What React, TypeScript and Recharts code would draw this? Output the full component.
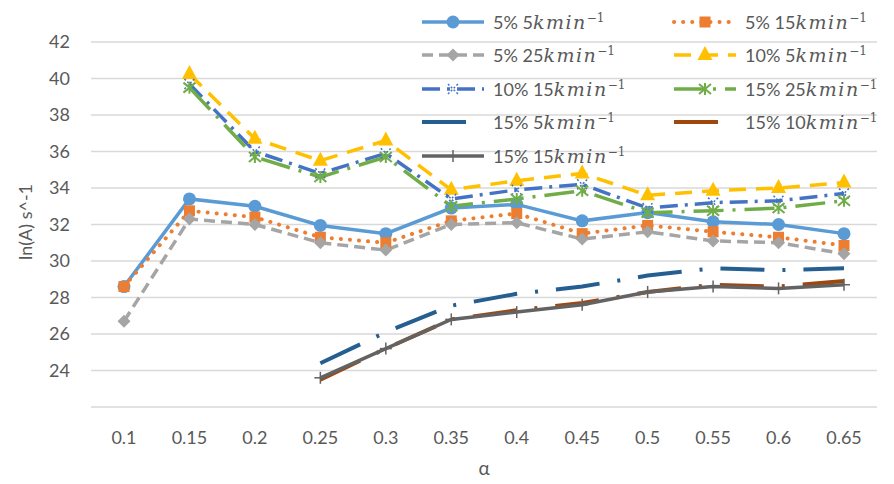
import React from "react";
import {
  LineChart,
  Line,
  XAxis,
  YAxis,
  CartesianGrid,
  Legend,
  Label,
} from "recharts";

const alpha = ["0.1", "0.15", "0.2", "0.25", "0.3", "0.35", "0.4", "0.45", "0.5", "0.55", "0.6", "0.65"];

const s5p5 = [28.6, 33.4, 33.0, 31.95, 31.5, 32.9, 33.1, 32.2, 32.65, 32.15, 32.0, 31.5];
const s5p15 = [28.6, 32.75, 32.4, 31.3, 31.0, 32.2, 32.6, 31.5, 31.95, 31.6, 31.3, 30.85];
const s5p25 = [26.7, 32.3, 32.0, 31.0, 30.6, 32.0, 32.1, 31.2, 31.6, 31.1, 31.0, 30.4];
const s10p5 = [null, 40.25, 36.7, 35.5, 36.6, 33.9, 34.4, 34.8, 33.6, 33.85, 34.0, 34.3];
const s10p15 = [null, 39.7, 36.0, 34.8, 35.9, 33.4, 33.9, 34.2, 32.9, 33.2, 33.3, 33.7];
const s15p25 = [null, 39.5, 35.7, 34.6, 35.7, 33.0, 33.4, 33.85, 32.65, 32.75, 32.9, 33.3];
const s15p5 = [null, null, null, 24.4, 26.1, 27.55, 28.2, 28.6, 29.2, 29.6, 29.5, 29.6];
const s15p10 = [null, null, null, 23.5, 25.2, 26.8, 27.3, 27.7, 28.3, 28.7, 28.6, 28.9];
const s15p15 = [null, null, null, 23.6, 25.2, 26.8, 27.2, 27.6, 28.3, 28.6, 28.5, 28.7];

const yTicks = [22, 24, 26, 28, 30, 32, 34, 36, 38, 40, 42];

const data = alpha.map((a, i) => ({
  alpha: a,
  s5p5: s5p5[i],
  s5p15: s5p15[i],
  s5p25: s5p25[i],
  s10p5: s10p5[i],
  s10p15: s10p15[i],
  s15p25: s15p25[i],
  s15p5: s15p5[i],
  s15p10: s15p10[i],
  s15p15: s15p15[i],
}));

type Series = {
  key: string;
  pct: string;
  rate: string;
  color: string;
  width: number;
  dash?: string;
  cap?: "round" | "butt";
  marker?: string;
};

const SERIES: Series[] = [
  { key: "s5p5", pct: "5%", rate: "5", color: "#5B9BD5", width: 3.5, marker: "circle" },
  { key: "s5p15", pct: "5%", rate: "15", color: "#ED7D31", width: 4, dash: "0.1 9", cap: "round", marker: "square" },
  { key: "s5p25", pct: "5%", rate: "25", color: "#A5A5A5", width: 3.5, dash: "11 6", marker: "diamond" },
  { key: "s10p5", pct: "10%", rate: "5", color: "#FFC000", width: 3.5, dash: "17 10", marker: "triangle" },
  { key: "s10p15", pct: "10%", rate: "15", color: "#4472C4", width: 3.5, dash: "18 7 3 7", marker: "xdots" },
  { key: "s15p25", pct: "15%", rate: "25", color: "#70AD47", width: 3.5, dash: "30 9 3 9", marker: "star" },
  { key: "s15p5", pct: "15%", rate: "5", color: "#255E91", width: 4, dash: "44 18 3 18" },
  { key: "s15p10", pct: "15%", rate: "10", color: "#9E480E", width: 4, dash: "44 18 3 18" },
  { key: "s15p15", pct: "15%", rate: "15", color: "#636363", width: 3.5, marker: "plus" },
];

const Marker = ({ kind, cx, cy, color }: { kind?: string; cx: number; cy: number; color: string }) => {
  switch (kind) {
    case "circle":
      return <circle cx={cx} cy={cy} r={6.5} fill={color} />;
    case "square":
      return <rect x={cx - 5.5} y={cy - 5.5} width={11} height={11} fill={color} />;
    case "diamond":
      return (
        <polygon
          points={`${cx},${cy - 6.5} ${cx + 6.5},${cy} ${cx},${cy + 6.5} ${cx - 6.5},${cy}`}
          fill={color}
        />
      );
    case "triangle":
      return (
        <polygon
          points={`${cx},${cy - 9} ${cx + 7.5},${cy + 5} ${cx - 7.5},${cy + 5}`}
          fill={color}
        />
      );
    case "xdots":
      return (
        <g stroke={color} strokeWidth={1.5} strokeDasharray="2 2">
          <line x1={cx - 5} y1={cy - 5} x2={cx + 5} y2={cy + 5} />
          <line x1={cx - 5} y1={cy + 5} x2={cx + 5} y2={cy - 5} />
        </g>
      );
    case "star":
      return (
        <g stroke={color} strokeWidth={2}>
          <line x1={cx - 6} y1={cy - 5} x2={cx + 6} y2={cy + 5} />
          <line x1={cx - 6} y1={cy + 5} x2={cx + 6} y2={cy - 5} />
          <line x1={cx} y1={cy - 6} x2={cx} y2={cy + 6} />
        </g>
      );
    case "plus":
      return (
        <g stroke={color} strokeWidth={1.5}>
          <line x1={cx} y1={cy - 6} x2={cx} y2={cy + 6} />
          <line x1={cx - 6} y1={cy} x2={cx + 6} y2={cy} />
        </g>
      );
    default:
      return null;
  }
};

const renderDot = (s: Series) => (p: any) => {
  const k = `${s.key}-${p.index}`;
  if (!s.marker || p.cx == null || p.cy == null || p.value == null) return <g key={k} />;
  return (
    <g key={k}>
      <Marker kind={s.marker} cx={p.cx} cy={p.cy} color={s.color} />
    </g>
  );
};

const LegendIcon = ({ s }: { s: Series }) => (
  <svg width={66} height={20} style={{ flex: "none" }}>
    <line
      x1={2}
      y1={10}
      x2={64}
      y2={10}
      stroke={s.color}
      strokeWidth={s.width}
      strokeDasharray={s.dash}
      strokeLinecap={s.cap || "butt"}
    />
    <Marker kind={s.marker} cx={33} cy={10} color={s.color} />
  </svg>
);

const LegendContent = () => (
  <div
    style={{
      display: "grid",
      gridTemplateColumns: "252px auto",
      gridAutoRows: "33.5px",
      alignItems: "center",
    }}
  >
    {SERIES.map((s) => (
      <div key={s.key} style={{ display: "flex", alignItems: "center", whiteSpace: "nowrap" }}>
        <LegendIcon s={s} />
        <span style={{ marginLeft: 7, fontFamily: "Lato", fontSize: 18, color: "#595959" }}>
          {s.pct} {s.rate}
          <span
            style={{
              fontFamily: "DejaVu Serif",
              fontStyle: "italic",
              fontSize: 19,
              letterSpacing: 1.5,
            }}
          >
            kmin
          </span>
          <sup style={{ fontFamily: "DejaVu Serif", fontSize: 12 }}>−1</sup>
        </span>
      </div>
    ))}
  </div>
);

const tickStyle = { fontFamily: "Lato", fontSize: 18, fill: "#595959" };

export default function App() {
  return (
    <div style={{ position: "absolute", left: 0, top: 0, background: "#fff" }}>
      <LineChart
        width={894}
        height={484}
        data={data}
        margin={{ top: 42, right: 17, bottom: 0, left: 0 }}
      >
        <CartesianGrid vertical={false} stroke="#D9D9D9" strokeWidth={1.3} />
        <XAxis
          dataKey="alpha"
          height={77}
          axisLine={false}
          tickLine={false}
          tickSize={0}
          tickMargin={24}
          tick={tickStyle}
          interval={0}
          padding={{ left: 33, right: 33 }}
        >
          <Label
            content={() => (
              <text x={484} y={475} textAnchor="middle" fontFamily="Lato" fontSize={19} fill="#595959">
                α
              </text>
            )}
          />
        </XAxis>
        <YAxis
          width={91}
          domain={[22, 42]}
          ticks={yTicks}
          axisLine={false}
          tickLine={false}
          tickSize={0}
          tickMargin={21}
          tick={tickStyle}
          tickFormatter={(v: number) => (v === 22 ? "" : String(v))}
        >
          <Label
            content={() => (
              <text
                x={25}
                y={222}
                transform="rotate(-90, 25, 222)"
                textAnchor="middle"
                dominantBaseline="central"
                fontFamily="Lato"
                fontSize={18}
                fill="#595959"
              >
                ln(A) s^-1
              </text>
            )}
          />
        </YAxis>
        <Legend
          layout="horizontal"
          verticalAlign="middle"
          align="center"
          content={() => <LegendContent />}
          wrapperStyle={{ position: "absolute", top: 5, left: 420, width: 474 }}
        />
        {SERIES.map((s) => (
          <Line
            key={s.key}
            type="linear"
            dataKey={s.key}
            stroke={s.color}
            strokeWidth={s.width}
            strokeDasharray={s.dash}
            strokeLinecap={s.cap || "butt"}
            dot={renderDot(s)}
            activeDot={false}
            connectNulls={false}
            isAnimationActive={false}
          />
        ))}
      </LineChart>
    </div>
  );
}
